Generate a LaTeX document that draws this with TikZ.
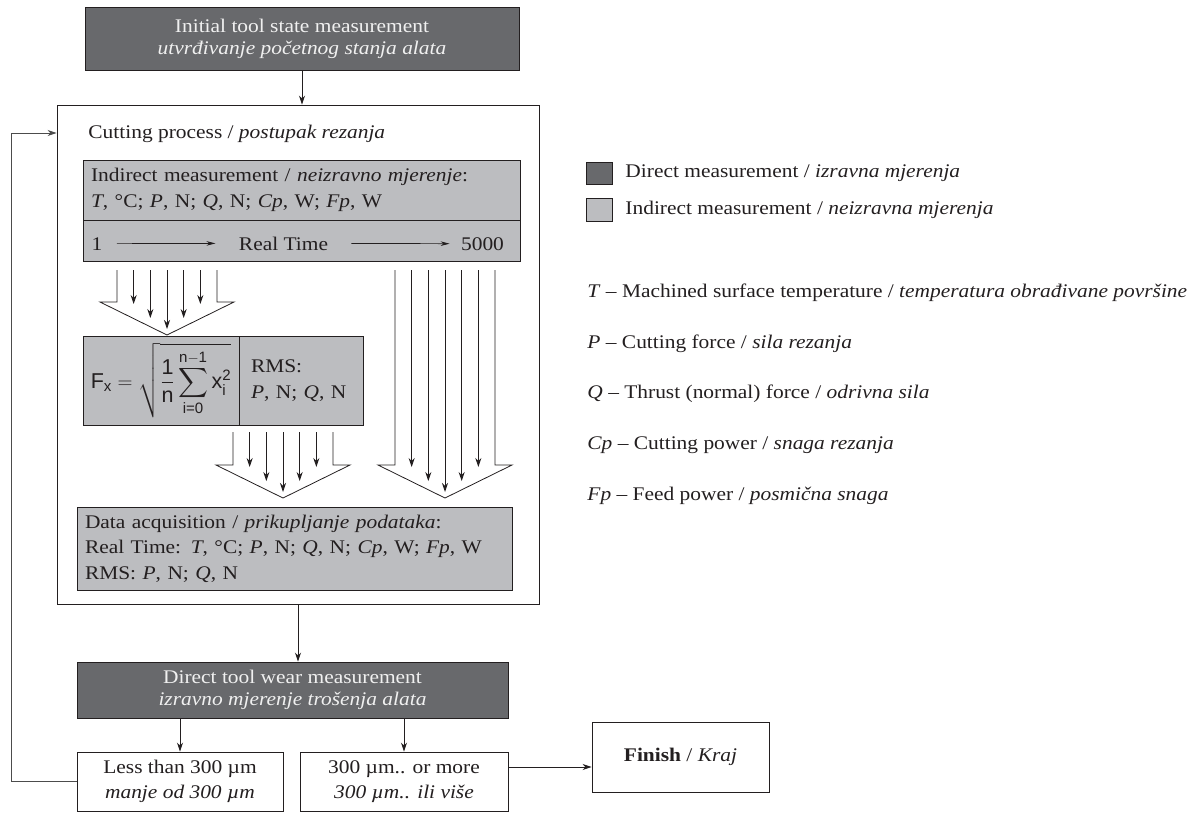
\documentclass[tikz,border=0pt]{standalone}
\usepackage{amsmath}
\usepackage{fontspec}
\setmainfont{Liberation Serif}[FakeStretch=1.11]
\setsansfont{Liberation Sans}
\usetikzlibrary{arrows.meta,calc}
\definecolor{darkfill}{RGB}{104,105,108}
\definecolor{lightfill}{RGB}{188,189,192}
\definecolor{inkline}{RGB}{35,31,32}
\newcommand{\sfv}[1]{\text{\sffamily #1}}
% funnel: centre x, top y, flare y
\newcommand{\funnel}[3]{%
  \draw[funline] (#1-50,#2) -- (#1-50,#3) -- (#1-67,#3) -- (#1,#3+33)
    -- (#1+67,#3) -- (#1+50,#3) -- (#1+50,#2);
  \foreach \k/\d in {-2/31,-1/17,0/6,1/17,2/31}
    \draw[arr] (#1+\k*16.67,#2) -- (#1+\k*16.67,#3+33-\d);
}

\begin{document}
\begin{tikzpicture}[x=1pt,y=-1pt,color=inkline,line width=0.9pt,
    font=\fontsize{19.3}{25.5}\selectfont,
    dirbox/.style={draw, fill=darkfill, text=white!94!black, align=center, inner sep=0pt,
      font=\fontsize{19.3}{22}\selectfont},
    indbox/.style={draw, fill=lightfill, align=left, inner xsep=8pt, inner ysep=0pt},
    plainbox/.style={draw, fill=white, align=center, inner sep=0pt},
    arr/.style={-{Stealth[length=9pt,width=6pt]}},
    tarr/.style={-{Stealth[length=9pt,width=4.5pt]}, line width=0.7pt},
    funline/.style={line width=0.8pt}]
    \useasboundingbox (0,0) rectangle (1192,812);

    % top of the flow
    \node[dirbox, minimum width=434pt, minimum height=63pt] (init) at (302,38.5)
      {Initial tool state measurement\\\textit{utvrđivanje početnog stanja alata}};
    \node[draw, minimum width=482pt, minimum height=499pt] (cut) at (298,354.5) {};
    \node[anchor=base west, inner sep=0pt] (cutlbl) at (88,138) {Cutting process / \textit{postupak rezanja}};

    % indirect measurement
    \node[indbox, minimum width=437pt, minimum height=60pt, text width=421pt] (indtop) at (301.5,190)
      {Indirect measurement / \textit{neizravno mjerenje}:\\
       \textit{T}, °C; \textit{P}, N; \textit{Q}, N; \textit{Cp}, W; \textit{Fp}, W};
    \node[indbox, minimum width=437pt, minimum height=41pt] (indtime) at (301.5,240.5) {};
    \node[anchor=base, inner xsep=14pt] (one) at (97,250) {1};
    \node[anchor=base, inner xsep=23pt] (rt) at (283.5,250) {Real Time};
    \node[anchor=base, inner xsep=11pt] (last) at (482.5,250) {5000};
    \draw[tarr] (one.east) -- (rt.west);
    \draw[tarr] (rt.east) -- (last.west);

    % RMS
    \node[indbox, minimum width=156pt, minimum height=89pt, inner xsep=0pt,
      font=\fontsize{21.5}{26}\selectfont] (fbox) at (161,380.5)
      {$\displaystyle \sfv{F}_{\sfv{x}} = \sqrt{\frac{\sfv{1}}{\sfv{n}}\sum_{\sfv{i=0}}^{\sfv{n}-\sfv{1}} \sfv{x}_{\sfv{i}}^{\sfv{2}}}$};
    \node[indbox, minimum width=124pt, minimum height=89pt, text width=100pt, inner xsep=12pt] (rms) at (301,380.5)
      {RMS:\\\textit{P}, N; \textit{Q}, N};

    \funnel{167}{270}{302}
    \funnel{283}{432}{465}
    \funnel{445}{270}{465}

    \node[indbox, minimum width=435pt, minimum height=83pt, text width=419pt] (data) at (294.5,548.5)
      {Data acquisition / \textit{prikupljanje podataka}:\\
       Real Time: \textit{T}, °C; \textit{P}, N; \textit{Q}, N; \textit{Cp}, W; \textit{Fp}, W\\
       RMS: \textit{P}, N; \textit{Q}, N};

    % wear check
    \node[dirbox, minimum width=431pt, minimum height=56pt] (direct) at (292.5,690)
      {Direct tool wear measurement\\\textit{izravno mjerenje trošenja alata}};
    \node[plainbox, minimum width=206pt, minimum height=59pt] (less) at (180,781.5)
      {Less than 300 µm\\\textit{manje od 300 µm}};
    \node[plainbox, minimum width=208pt, minimum height=59pt] (more) at (404,781.5)
      {300 µm.. or more\\\textit{300 µm.. ili više}};
    \node[plainbox, minimum width=177pt, minimum height=70pt] (fin) at (680.5,757)
      {\textbf{Finish} / \textit{Kraj}};

    \draw[arr] (init.south) -- (init.south |- cut.north);
    \draw[arr] (cut.south) -- (cut.south |- direct.north);
    \draw[arr] (less.north |- direct.south) -- (less.north);
    \draw[arr] (more.north |- direct.south) -- (more.north);
    \draw[arr] (more.east |- 0,767) -- (fin.west |- 0,767);
    \draw[arr, black!70] (less.west) -| (11,133) -- (cut.west |- 0,133);

    % legend
    \node[draw, fill=darkfill, minimum width=26pt, minimum height=22pt, inner sep=0pt] (keydir) at (599,173) {};
    \node[draw, fill=lightfill, minimum width=26pt, minimum height=23pt, inner sep=0pt] (keyind) at (599,209.5) {};
    \node[anchor=west, inner sep=0pt] (keydirtxt) at (625,173) {Direct measurement / \textit{izravna mjerenja}};
    \node[anchor=west, inner sep=0pt] (keyindtxt) at (625,209.5) {Indirect measurement / \textit{neizravna mjerenja}};

    \node[anchor=base west, inner sep=0pt] (defT) at (587,297) {\textit{T} – Machined surface temperature / \textit{temperatura obrađivane površine}};
    \node[anchor=base west, inner sep=0pt] (defP) at (587,348) {\textit{P} – Cutting force / \textit{sila rezanja}};
    \node[anchor=base west, inner sep=0pt] (defQ) at (587,398) {\textit{Q} – Thrust (normal) force / \textit{odrivna sila}};
    \node[anchor=base west, inner sep=0pt] (defCp) at (587,449) {\textit{Cp} – Cutting power / \textit{snaga rezanja}};
    \node[anchor=base west, inner sep=0pt] (defFp) at (587,500) {\textit{Fp} – Feed power / \textit{posmična snaga}};
\end{tikzpicture}
\end{document}
